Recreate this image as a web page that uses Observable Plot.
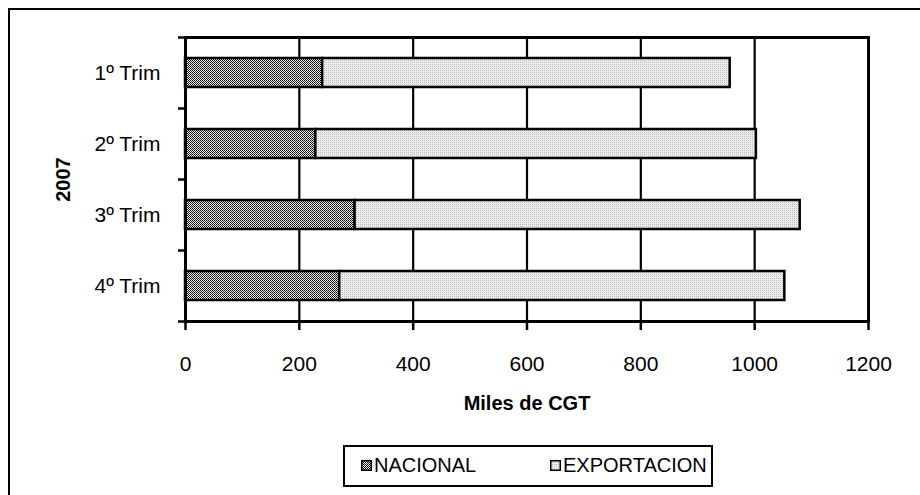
<!DOCTYPE html>
<html>
<head>
<meta charset="utf-8">
<script src="https://cdn.jsdelivr.net/npm/d3@7"></script>
<script src="https://cdn.jsdelivr.net/npm/@observablehq/plot@0.6"></script>
<style>
  html, body { margin: 0; padding: 0; background: #fff; overflow: hidden; }
  body { width: 920px; height: 495px; position: relative; font-family: "Liberation Sans", Arial, sans-serif; }
  #border { position: absolute; left: 8px; top: 8px; width: 1000px; height: 1000px; border: 2.5px solid #000; box-sizing: border-box; }
  #chart { position: absolute; left: 0; top: 0; }
  #legend { position: absolute; left: 343px; top: 445px; width: 370px; height: 42px; border: 2.5px solid #000; box-sizing: border-box;
            font-size: 20px; color: #000; }
  .item { position: absolute; top: 0; height: 37px; display: flex; align-items: center; }
  .item svg { margin-right: 2px; }
</style>
</head>
<body>
<svg width="0" height="0" style="position:absolute">
  <defs>
    <pattern id="pNac" width="2" height="2" patternUnits="userSpaceOnUse">
      <rect width="2" height="2" fill="#f0f0f0"/>
      <rect x="0" y="0" width="1" height="1" fill="#000"/>
      <rect x="1" y="1" width="1" height="1" fill="#222"/>
    </pattern>
    <pattern id="pExp" width="2" height="2" patternUnits="userSpaceOnUse">
      <rect width="2" height="2" fill="#ececec"/>
      <rect x="0" y="0" width="1" height="1" fill="#bdbdbd"/>
    </pattern>
  </defs>
</svg>
<div id="border"></div>
<div id="chart"></div>
<div id="legend"></div>
<script>
const categories = ["1º Trim", "2º Trim", "3º Trim", "4º Trim"];
const series = ["NACIONAL", "EXPORTACION"];
const nacional = [241, 229, 298, 271];
const exportacion = [716, 774, 782, 782];
const xTicks = [0, 200, 400, 600, 800, 1000, 1200];
const xLabel = "Miles de CGT";
const yLabel = "2007";
const patterns = ["url(#pNac)", "url(#pExp)"];

const data = [];
categories.forEach((c, i) => {
  data.push({trim: c, serie: series[0], value: nacional[i]});
  data.push({trim: c, serie: series[1], value: exportacion[i]});
});

const plotH = 435, mTop = 37, mBottom = plotH - 321;
const step = (321 - 37) / categories.length;

const chart = Plot.plot({
  width: 920,
  height: plotH,
  marginLeft: 185,
  marginRight: 52,
  marginTop: mTop,
  marginBottom: mBottom,
  style: {fontFamily: "'Liberation Sans', Arial, sans-serif", fontSize: "21px", color: "#000", background: "transparent"},
  x: {domain: [0, 1200], ticks: xTicks},
  y: {domain: categories, paddingInner: 0.59, paddingOuter: 0.295},
  color: {type: "ordinal", domain: series, range: patterns},
  marks: [
    Plot.ruleX(xTicks.slice(1, -1), {stroke: "#000", strokeWidth: 2.2}),
    Plot.barX(data, {x: "value", y: "trim", fill: "serie", stroke: "#000", strokeWidth: 2.5}),
    Plot.frame({stroke: "#000", strokeWidth: 3}),
    Plot.axisX({ticks: xTicks, tickSize: 9, tickPadding: 26, strokeWidth: 2.5, fontSize: 21, label: null, tickFormat: d => String(d)}),
    Plot.axisY({tickSize: 0, tickPadding: 25, fontSize: 21, label: null}),
    Plot.axisY({tickSize: 7, text: null, strokeWidth: 2.5, dy: -step / 2, label: null}),
    Plot.axisY({ticks: [categories[categories.length - 1]], tickSize: 7, text: null, strokeWidth: 2.5, dy: step / 2, label: null}),
    Plot.text([xLabel], {frameAnchor: "bottom", dy: 82, lineAnchor: "middle", textAnchor: "middle", fontWeight: "bold", fontSize: 20, text: d => d}),
    Plot.text([yLabel], {frameAnchor: "left", dx: -122, rotate: -90, lineAnchor: "middle", textAnchor: "middle", fontWeight: "bold", fontSize: 20, text: d => d})
  ]
});
document.getElementById("chart").appendChild(chart);

const legend = document.getElementById("legend");
const itemLeft = [16, 205];
series.forEach((s, i) => {
  const item = document.createElement("div");
  item.className = "item";
  item.style.left = itemLeft[i] + "px";
  item.innerHTML = `<svg width="11" height="11"><rect x="0.75" y="0.75" width="9.5" height="9.5" fill="${patterns[i]}" stroke="#000" stroke-width="1.5"/></svg><span>${s}</span>`;
  legend.appendChild(item);
});
</script>
</body>
</html>
